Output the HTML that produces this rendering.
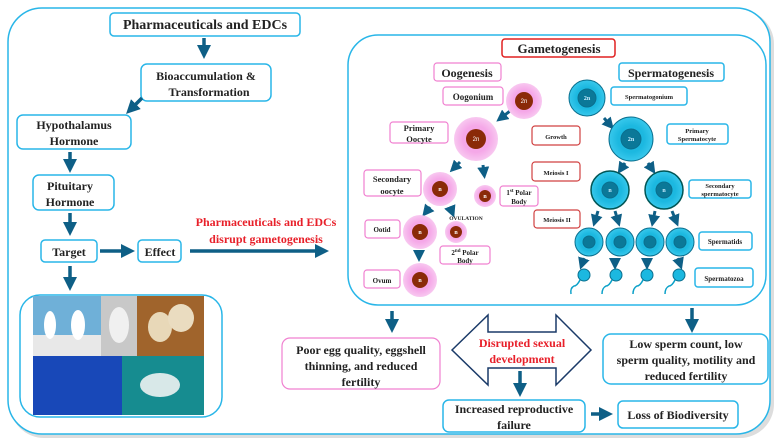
<!DOCTYPE html>
<html><head><meta charset="utf-8"><style>
html,body{margin:0;padding:0;background:#fff;}
svg{display:block;}
text{font-family:"Liberation Serif",serif;font-weight:bold;}
</style></head><body>
<svg width="781" height="446" viewBox="0 0 781 446" xmlns="http://www.w3.org/2000/svg">
<defs>
<marker id="ah" markerWidth="4" markerHeight="4" refX="2" refY="2" orient="auto" markerUnits="strokeWidth"><path d="M0,0 L4,2 L0,4 z" fill="#0e5f86"/></marker>
<radialGradient id="pk" cx="50%" cy="50%" r="50%"><stop offset="0.6" stop-color="#f5a8e8"/><stop offset="1" stop-color="#f8c8f0"/></radialGradient>
<radialGradient id="cy" cx="50%" cy="50%" r="50%"><stop offset="0.6" stop-color="#1cb8e0"/><stop offset="1" stop-color="#38c8ec"/></radialGradient>
</defs>
<rect x="10" y="10" width="764" height="428" rx="34" fill="#ddd"/>
<rect x="8" y="8" width="762" height="426" rx="34" fill="#fff" stroke="#29b6e8" stroke-width="1.5"/>
<rect x="348" y="35" width="418" height="270" rx="30" fill="#fff" stroke="#29b6e8" stroke-width="1.5"/>

<g fill="#fff" stroke="#29b6e8" stroke-width="1.5">
<rect x="110" y="13" width="190" height="23" rx="4"/>
<rect x="141" y="64" width="130" height="37" rx="6"/>
<rect x="17" y="115" width="114" height="34" rx="6"/>
<rect x="33" y="175" width="81" height="35" rx="6"/>
<rect x="41" y="240" width="56" height="22" rx="4"/>
<rect x="138" y="240" width="43" height="22" rx="4"/>
<rect x="20" y="295" width="202" height="122" rx="20"/>
<rect x="603" y="334" width="165" height="50" rx="8"/>
<rect x="443" y="400" width="142" height="32" rx="6"/>
<rect x="618" y="401" width="120" height="27" rx="5"/>
<rect x="619" y="63" width="105" height="18" rx="3"/>
<rect x="611" y="87" width="76" height="18" rx="3"/>
<rect x="667" y="124" width="61" height="20" rx="3"/>
<rect x="689" y="180" width="62" height="18" rx="3"/>
<rect x="699" y="232" width="53" height="18" rx="3"/>
<rect x="695" y="268" width="58" height="19" rx="3"/>
</g>
<g fill="#fff" stroke="#f080d0" stroke-width="1.2">
<rect x="282" y="338" width="158" height="51" rx="8"/>
<rect x="434" y="63" width="67" height="18" rx="3"/>
<rect x="443" y="87" width="60" height="18" rx="3"/>
<rect x="390" y="122" width="58" height="21" rx="3"/>
<rect x="364" y="170" width="57" height="26" rx="3"/>
<rect x="500" y="186" width="38" height="20" rx="3"/>
<rect x="365" y="220" width="35" height="18" rx="3"/>
<rect x="440" y="246" width="50" height="18" rx="3"/>
<rect x="364" y="270" width="36" height="18" rx="3"/>
</g>
<g fill="#fff" stroke="#d04040" stroke-width="1.2">
<rect x="502" y="39" width="113" height="18" rx="3" stroke="#e02020" stroke-width="1.5"/>
<rect x="532" y="126" width="48" height="19" rx="3"/>
<rect x="532" y="162" width="48" height="19" rx="3"/>
<rect x="534" y="210" width="46" height="18" rx="3"/>
</g>

<!-- photos -->
<rect x="33" y="296" width="68" height="60" fill="#6fb0d8"/>
<rect x="33" y="335" width="68" height="21" fill="#e8e8e8"/>
<rect x="101" y="296" width="36" height="60" fill="#c8c8c8"/>
<rect x="137" y="296" width="67" height="60" fill="#a0642c"/>
<ellipse cx="160" cy="327" rx="12" ry="15" fill="#e8d8b8"/><ellipse cx="181" cy="318" rx="13" ry="14" fill="#eadcc0"/>
<rect x="33" y="356" width="89" height="59" fill="#1848b8"/>
<rect x="122" y="356" width="82" height="59" fill="#168c90"/>
<ellipse cx="160" cy="385" rx="20" ry="12" fill="#d8e8e8"/>
<ellipse cx="50" cy="325" rx="6" ry="14" fill="#fff"/><ellipse cx="78" cy="325" rx="7" ry="15" fill="#fff"/><ellipse cx="119" cy="325" rx="10" ry="18" fill="#f0f0f0"/>

<!-- arrows -->
<g stroke="#0e5f86" stroke-width="3.5" fill="none" marker-end="url(#ah)">
<line x1="204" y1="38" x2="204" y2="52"/>
<line x1="142" y1="98" x2="131" y2="109"/>
<line x1="70" y1="152" x2="70" y2="166"/>
<line x1="70" y1="213" x2="70" y2="229"/>
<line x1="100" y1="251" x2="128" y2="251"/>
<line x1="190" y1="251" x2="322" y2="251"/>
<line x1="70" y1="266" x2="70" y2="284"/>
<line x1="392" y1="311" x2="392" y2="326"/>
<line x1="692" y1="308" x2="692" y2="326"/>
<line x1="591" y1="414" x2="606" y2="414"/>
</g>
<g stroke="#0e5f86" stroke-width="3" fill="none" marker-end="url(#ah)">
<line x1="510" y1="111" x2="501" y2="118"/>
<line x1="460" y1="162" x2="454" y2="168"/>
<line x1="483" y1="165" x2="484" y2="173"/>
<line x1="430" y1="207" x2="426" y2="212"/>
<line x1="450" y1="207" x2="452" y2="212"/>
<line x1="419" y1="250" x2="419" y2="256"/>
<line x1="604" y1="118" x2="610" y2="125"/>
<line x1="625" y1="163" x2="621" y2="169"/>
<line x1="648" y1="163" x2="652" y2="169"/>
<line x1="598" y1="211" x2="595" y2="221"/>
<line x1="615" y1="211" x2="618" y2="221"/>
<line x1="655" y1="211" x2="653" y2="221"/>
<line x1="672" y1="211" x2="676" y2="221"/>
<line x1="584" y1="258" x2="582" y2="264"/>
<line x1="615" y1="258" x2="615" y2="264"/>
<line x1="647" y1="258" x2="647" y2="264"/>
<line x1="678" y1="258" x2="680" y2="264"/>
</g>

<!-- double arrow -->
<path d="M452,350 L488,315 L488,332 L556,332 L556,315 L591,350 L556,385 L556,368 L488,368 L488,385 Z" fill="#fff" stroke="#1a3a68" stroke-width="1.5"/>
<line x1="520" y1="371" x2="520" y2="390" stroke="#0e5f86" stroke-width="3.5" marker-end="url(#ah)"/>

<!-- egg cells -->
<g>
<circle cx="524" cy="101" r="18" fill="url(#pk)"/><circle cx="524" cy="101" r="9" fill="#8a2a08"/>
<circle cx="476" cy="139" r="22" fill="url(#pk)"/><circle cx="476" cy="139" r="10" fill="#8a2a08"/>
<circle cx="440" cy="189" r="17" fill="url(#pk)"/><circle cx="440" cy="189" r="8" fill="#8a2a08"/>
<circle cx="485" cy="196" r="11" fill="url(#pk)"/><circle cx="485" cy="196" r="6" fill="#8a2a08"/>
<circle cx="420" cy="232" r="17" fill="url(#pk)"/><circle cx="420" cy="232" r="8" fill="#8a2a08"/>
<circle cx="456" cy="232" r="11" fill="url(#pk)"/><circle cx="456" cy="232" r="6" fill="#8a2a08"/>
<circle cx="420" cy="280" r="17" fill="url(#pk)"/><circle cx="420" cy="280" r="8" fill="#8a2a08"/>
</g>
<g fill="#fff" font-size="6" text-anchor="middle">
<text x="524" y="103" style="font-family:'Liberation Sans',sans-serif;font-weight:normal">2n</text><text x="476" y="141" style="font-family:'Liberation Sans',sans-serif;font-weight:normal">2n</text>
<text x="440" y="191">n</text><text x="485" y="198">n</text>
<text x="420" y="234">n</text><text x="456" y="234">n</text><text x="420" y="282">n</text>
</g>
<!-- sperm cells -->
<g stroke="#0a6f8e" stroke-width="1">
<circle cx="587" cy="98" r="18" fill="url(#cy)"/><circle cx="587" cy="98" r="9" fill="#0b7898"/>
<circle cx="631" cy="139" r="22" fill="url(#cy)"/><circle cx="631" cy="139" r="10" fill="#0b7898"/>
<circle cx="610" cy="190" r="19" fill="url(#cy)" stroke="#055" stroke-width="1.5"/><circle cx="610" cy="190" r="8" fill="#0b7898"/>
<circle cx="664" cy="190" r="19" fill="url(#cy)" stroke="#055" stroke-width="1.5"/><circle cx="664" cy="190" r="8" fill="#0b7898"/>
<circle cx="589" cy="242" r="14" fill="url(#cy)"/><circle cx="589" cy="242" r="6" fill="#0b7898"/>
<circle cx="620" cy="242" r="14" fill="url(#cy)"/><circle cx="620" cy="242" r="6" fill="#0b7898"/>
<circle cx="650" cy="242" r="14" fill="url(#cy)"/><circle cx="650" cy="242" r="6" fill="#0b7898"/>
<circle cx="680" cy="242" r="14" fill="url(#cy)"/><circle cx="680" cy="242" r="6" fill="#0b7898"/>
<circle cx="584" cy="275" r="6" fill="#1cb8e0"/><circle cx="616" cy="275" r="6" fill="#1cb8e0"/>
<circle cx="647" cy="275" r="6" fill="#1cb8e0"/><circle cx="679" cy="275" r="6" fill="#1cb8e0"/>
</g>
<g stroke="#0aa0c8" stroke-width="1.5" fill="none">
<path d="M580,280 q-3,6 -6,6 q-4,2 -3,8"/><path d="M612,280 q-3,6 -6,6 q-4,2 -4,8"/>
<path d="M643,280 q-3,6 -6,6 q-4,2 -4,8"/><path d="M675,280 q-3,6 -6,6 q-4,2 -4,8"/>
</g>
<g font-size="6" text-anchor="middle" fill="#cef">
<text x="587" y="100">2n</text><text x="631" y="141">2n</text>
<text x="610" y="192">n</text><text x="664" y="192">n</text>
</g>

<!-- text -->
<g text-anchor="middle" fill="#222">
<text x="205" y="29" font-size="14">Pharmaceuticals and EDCs</text>
<text x="206" y="80" font-size="12">Bioaccumulation &amp;</text>
<text x="209" y="96" font-size="12">Transformation</text>
<text x="74" y="129" font-size="12">Hypothalamus</text>
<text x="74" y="145" font-size="12">Hormone</text>
<text x="70" y="190" font-size="12">Pituitary</text>
<text x="70" y="206" font-size="12">Hormone</text>
<text x="69" y="256" font-size="12">Target</text>
<text x="160" y="256" font-size="12">Effect</text>
<text x="266" y="226" font-size="12" fill="#e8202a">Pharmaceuticals and EDCs</text>
<text x="266" y="243" font-size="12" fill="#e8202a">disrupt gametogenesis</text>
<text x="559" y="53" font-size="13">Gametogenesis</text>
<text x="467" y="77" font-size="12">Oogenesis</text>
<text x="671" y="77" font-size="12">Spermatogenesis</text>
<text x="473" y="100" font-size="9">Oogonium</text>
<text x="419" y="131" font-size="8.5">Primary</text>
<text x="419" y="142" font-size="8.5">Oocyte</text>
<text x="392" y="182" font-size="8.5">Secondary</text>
<text x="392" y="194" font-size="8.5">oocyte</text>
<text x="519" y="195" font-size="7">1<tspan font-size="5" dy="-3">st</tspan><tspan dy="3"> Polar</tspan></text>
<text x="519" y="204" font-size="7">Body</text>
<text x="466" y="220" font-size="5.5">OVULATION</text>
<text x="382" y="232" font-size="7">Ootid</text>
<text x="465" y="255" font-size="7">2<tspan font-size="5" dy="-3">nd</tspan><tspan dy="3"> Polar</tspan></text>
<text x="465" y="263" font-size="7">Body</text>
<text x="382" y="283" font-size="7">Ovum</text>
<text x="556" y="139" font-size="6.5">Growth</text>
<text x="556" y="175" font-size="6.5">Meiosis I</text>
<text x="557" y="222" font-size="6.5">Meiosis II</text>
<text x="649" y="99" font-size="6.5">Spermatogonium</text>
<text x="697" y="133" font-size="6.5">Primary</text>
<text x="697" y="141" font-size="6.5">Spermatocyte</text>
<text x="720" y="188" font-size="6.5">Secondary</text>
<text x="720" y="196" font-size="6.5">spermatocyte</text>
<text x="725" y="244" font-size="7">Spermatids</text>
<text x="724" y="281" font-size="7">Spermatozoa</text>
<text x="361" y="354" font-size="12">Poor egg quality, eggshell</text>
<text x="361" y="370" font-size="12">thinning, and reduced</text>
<text x="361" y="386" font-size="12">fertility</text>
<text x="522" y="347" font-size="12" fill="#e8202a">Disrupted sexual</text>
<text x="522" y="363" font-size="12" fill="#e8202a">development</text>
<text x="686" y="348" font-size="12">Low sperm count, low</text>
<text x="686" y="364" font-size="12">sperm quality, motility and</text>
<text x="686" y="380" font-size="12">reduced fertility</text>
<text x="514" y="413" font-size="12">Increased reproductive</text>
<text x="514" y="429" font-size="12">failure</text>
<text x="678" y="419" font-size="12">Loss of Biodiversity</text>
</g>
</svg>
</body></html>
